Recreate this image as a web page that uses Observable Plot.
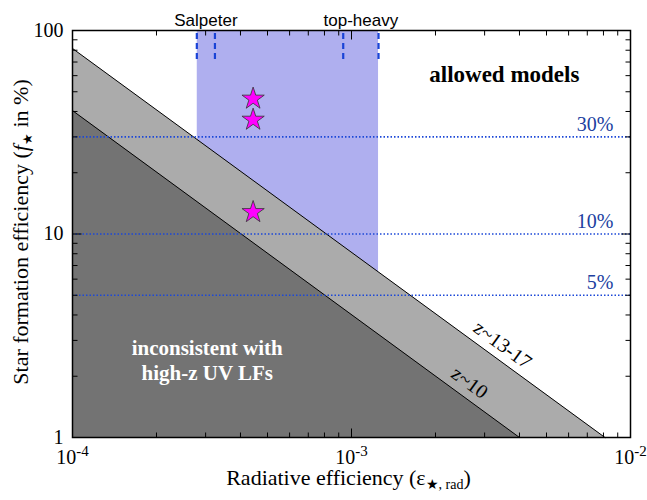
<!DOCTYPE html>
<html>
<head>
<meta charset="utf-8">
<script src="https://cdn.jsdelivr.net/npm/d3@7"></script>
<script src="https://cdn.jsdelivr.net/npm/@observablehq/plot@0.6"></script>
<style>
  html, body { margin: 0; padding: 0; background: white; }
</style>
</head>
<body>
<div id="chart"></div>
<script>
// ---- data ----
const xMajor = [1e-4, 1e-3, 1e-2];
const xMinor = [2e-4, 3e-4, 4e-4, 5e-4, 6e-4, 7e-4, 8e-4, 9e-4, 2e-3, 3e-3, 4e-3, 5e-3, 6e-3, 7e-3, 8e-3, 9e-3];
const yMajor = [1, 10, 100];
const yMinor = [2, 3, 4, 5, 6, 7, 8, 9, 20, 30, 40, 50, 60, 70, 80, 90];

// boundary lines (log-log straight lines, endpoints)
const z13X = [1e-4, 8.1e-3];
const z13Y = [81.6, 1];
const z10X = [1e-4, 4.0e-3];
const z10Y = [40.4, 1];

// IMF band and dashed markers
const imfBand = [2.8e-4, 1.25e-3];
const salpeterX = [2.79e-4, 3.24e-4];
const topHeavyX = [9.34e-4, 1.25e-3];
const imfNames = ["Salpeter", "top-heavy"];

// stars
const starX = [4.44e-4, 4.44e-4, 4.44e-4];
const starY = [46.2, 36.4, 12.8];

// SFE levels
const sfeLevels = [30, 10, 5];
const sfeLabels = ["30%", "10%", "5%"];

// redshift labels on the lines
const zLabelText = ["z~13-17", "z~10"];
const zLabelX = [3.37e-3, 2.61e-3];
const zLabelY = [2.40, 1.53];

// ---- build tables ----
const z13 = z13X.map((x, i) => ({x, y: z13Y[i]}));
const z10 = z10X.map((x, i) => ({x, y: z10Y[i]}));
const stars = starX.map((x, i) => ({x, y: starY[i]}));
const dashes = [...salpeterX, ...topHeavyX].map(x => ({x}));
const imfLabels = [
  {x: Math.sqrt(salpeterX[0] * salpeterX[1]), name: imfNames[0]},
  {x: Math.sqrt(topHeavyX[0] * topHeavyX[1]), name: imfNames[1]}
];
const sfe = sfeLevels.map((y, i) => ({y, label: sfeLabels[i]}));
const zLabels = zLabelText.map((t, i) => ({t, x: zLabelX[i], y: zLabelY[i]}));

const tickSym = (dx, dy) => ({draw(ctx) { ctx.moveTo(0, 0); ctx.lineTo(dx, dy); }});
const MAJ = 9, MIN = 5;

const tickMarks = [];
for (const [vals, len] of [[xMajor, MAJ], [xMinor, MIN]]) {
  tickMarks.push(Plot.dot(vals, {x: d => d, y: 1, symbol: tickSym(0, -len), stroke: "black", strokeWidth: 1, r: 3}));
  tickMarks.push(Plot.dot(vals, {x: d => d, y: 100, symbol: tickSym(0, len), stroke: "black", strokeWidth: 1, r: 3}));
}
for (const [vals, len] of [[yMajor, MAJ], [yMinor, MIN]]) {
  tickMarks.push(Plot.dot(vals, {y: d => d, x: 1e-4, symbol: tickSym(len, 0), stroke: "black", strokeWidth: 1, r: 3}));
  tickMarks.push(Plot.dot(vals, {y: d => d, x: 1e-2, symbol: tickSym(-len, 0), stroke: "black", strokeWidth: 1, r: 3}));
}

const blueFill = "#afafef";
const dotBlue = "#1c48d8";

const svg = Plot.plot({
  width: 647,
  height: 500,
  marginLeft: 72,
  marginRight: 17,
  marginTop: 30,
  marginBottom: 63,
  style: {fontFamily: "'Liberation Serif', 'DejaVu Serif', serif", fontSize: "20px", background: "white", color: "black"},
  x: {type: "log", domain: [1e-4, 1e-2]},
  y: {type: "log", domain: [1, 100]},
  marks: [
    Plot.rect([imfBand], {x1: d => d[0], x2: d => d[1], y1: 1, y2: 100, fill: blueFill}),
    Plot.areaY(z13, {x: "x", y1: 1, y2: "y", fill: "#ababab"}),
    Plot.areaY(z10, {x: "x", y1: 1, y2: "y", fill: "#737373"}),
    Plot.line(z13, {x: "x", y: "y", stroke: "black", strokeWidth: 1}),
    Plot.line(z10, {x: "x", y: "y", stroke: "black", strokeWidth: 1}),
    Plot.ruleY(sfe, {y: "y", stroke: dotBlue, strokeWidth: 1.7, strokeDasharray: "1.5,2"}),
    Plot.text(sfe, {y: "y", frameAnchor: "right", text: "label", textAnchor: "end", lineAnchor: "bottom", dx: -17, dy: -6, fill: "#2040a0", fontSize: 20}),
    Plot.ruleX(dashes, {x: "x", y1: 72, y2: 100, stroke: "#1a44d6", strokeWidth: 2.2, strokeDasharray: "6,4"}),
    Plot.text(imfLabels, {x: "x", frameAnchor: "top", text: "name", dy: -17, fontFamily: "'Liberation Sans', Arial, sans-serif", fontSize: 17, fill: "black"}),
    Plot.dot(stars, {x: "x", y: "y", symbol: "star", r: 7, fill: "#ff00ff", stroke: "#333", strokeWidth: 0.8}),
    Plot.text(["allowed models"], {x: 3.53e-3, y: 61, text: d => d, fontWeight: "bold", fontSize: 23, fill: "black"}),
    Plot.text(["inconsistent with\nhigh-z UV LFs"], {x: 3.04e-4, y: 2.41, text: d => d, fontWeight: "bold", fontSize: 21, fill: "white", lineHeight: 1.2}),
    Plot.text(zLabels.slice(0, 1), {x: "x", y: "y", text: "t", rotate: 36.1, lineAnchor: "bottom", dy: -10, fontSize: 20, fill: "black"}),
    Plot.text(zLabels.slice(1), {x: "x", y: "y", text: "t", rotate: 36.1, lineAnchor: "bottom", dy: -12, dx: -2, fontSize: 20, fill: "black"}),
    ...tickMarks,
    Plot.axisX({ticks: xMajor, tickSize: 0, tickPadding: 12, label: null, fontSize: 20, tickFormat: d => "10^" + Math.round(Math.log10(d))}),
    Plot.axisY({ticks: yMajor, tickSize: 0, tickPadding: 9, label: null, fontSize: 20, tickFormat: d => String(d)}),
    Plot.text(["Radiative efficiency (ε★,rad)"], {frameAnchor: "bottom", text: d => d, textAnchor: "middle", dy: 47, dx: -3, fontSize: 22, fill: "black"}),
    Plot.text(["Star formation efficiency (f★ in %)"], {frameAnchor: "left", text: d => d, textAnchor: "middle", rotate: -90, dx: -52, dy: -2, fontSize: 22, fill: "black"}),
    Plot.frame({stroke: "black", strokeWidth: 1.5})
  ]
});

// ---- rich text post-processing (superscripts / subscripts) ----
const NS = "http://www.w3.org/2000/svg";
function tspan(parent, text, attrs = {}) {
  const s = document.createElementNS(NS, "tspan");
  s.textContent = text;
  for (const k in attrs) s.setAttribute(k, attrs[k]);
  parent.appendChild(s);
}
for (const t of svg.querySelectorAll("text")) {
  const s = t.textContent;
  let m;
  if ((m = /^10\^(-?\d+)$/.exec(s))) {
    t.textContent = "";
    tspan(t, "10");
    tspan(t, m[1], {dy: "-8", "font-size": "15"});
  } else if (s === "Radiative efficiency (ε★,rad)") {
    t.textContent = "";
    tspan(t, "Radiative efficiency (ε");
    tspan(t, "★, rad", {dy: "4", "font-size": "14"});
    tspan(t, ")", {dy: "-4"});
  } else if (s === "Star formation efficiency (f★ in %)") {
    t.textContent = "";
    tspan(t, "Star formation efficiency (");
    tspan(t, "f", {"font-style": "italic"});
    tspan(t, "★", {dy: "4", "font-size": "13"});
    tspan(t, " in %)", {dy: "-4"});
  }
}
document.getElementById("chart").appendChild(svg);
</script>
</body>
</html>
